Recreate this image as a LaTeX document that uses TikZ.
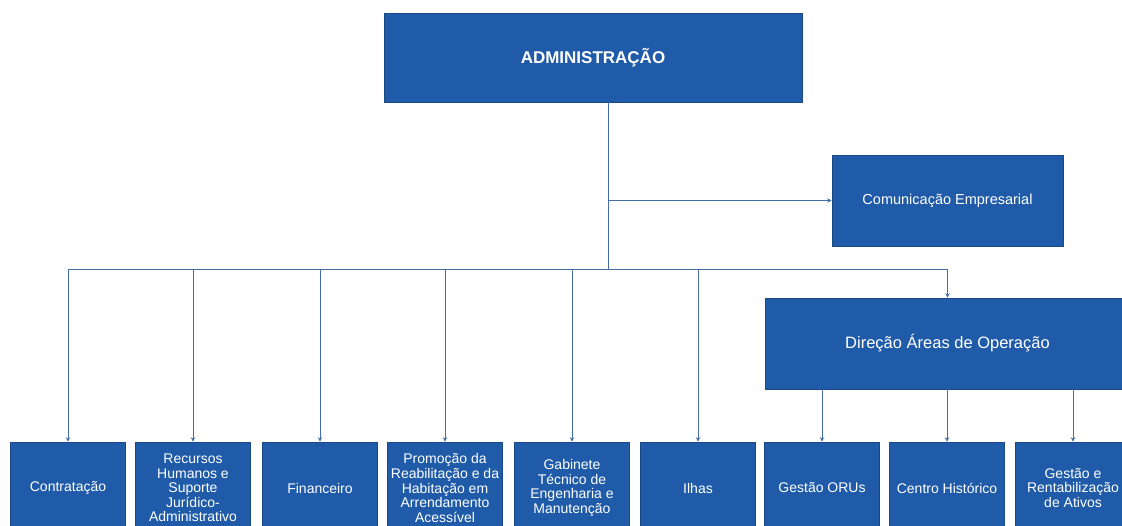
\documentclass[tikz,border=0pt]{standalone}
\usepackage{fontspec}
\setmainfont{Liberation Sans}
\usetikzlibrary{arrows.meta}
\definecolor{boxblue}{RGB}{31,91,168}
\definecolor{lineblue}{RGB}{70,108,165}
\tikzset{
  unit/.style={draw=boxblue!80!black, line width=0.6pt, fill=boxblue, text=white, inner sep=0pt, align=center},
  small/.style={unit, minimum width=115pt, minimum height=92pt, font=\fontsize{14}{14.6}\selectfont},
  conn/.style={draw=lineblue, line width=1pt},
  arr/.style={conn, -{Stealth[length=4.5pt,width=4.5pt]}}
}
\begin{document}
\begin{tikzpicture}[x=1pt,y=-1pt]
\useasboundingbox (0,0) rectangle (1122,526);
\clip (0,0) rectangle (1122,526);
\fill[white] (0,0) rectangle (1122,526);
\node[unit, minimum width=418pt, minimum height=89pt, font=\bfseries\fontsize{17}{19}\selectfont] (admin) at (593,57.5) {ADMINISTRAÇÃO};
\node[unit, minimum width=231pt, minimum height=91pt, font=\fontsize{14.5}{16}\selectfont] (comm) at (947.5,200.5) {Comunicação Empresarial};
\node[unit, minimum width=365pt, minimum height=91pt, font=\fontsize{16.5}{18}\selectfont] (dir) at (947.5,343.5) {Direção Áreas de Operação};
\node[small] (b1) at (68,488) {Contratação};
\node[small] (b2) at (193,488) {Recursos\\Humanos e\\Suporte\\Jurídico-\\Administrativo};
\node[small] (b3) at (320,488) {Financeiro};
\node[small] (b4) at (445,488) {Promoção da\\Reabilitação e da\\Habitação em\\Arrendamento\\Acessível};
\node[small] (b5) at (572,488) {Gabinete\\Técnico de\\Engenharia e\\Manutenção};
\node[small] (b6) at (698,488) {Ilhas};
\node[small] (b7) at (822,488) {Gestão ORUs};
\node[small] (b8) at (947,488) {Centro Histórico};
\node[small] (b9) at (1073,488) {Gestão e\\Rentabilização\\de Ativos};
\coordinate (trunk) at (608,270);
\draw[conn] (admin.south -| trunk) -- (trunk);
\draw[arr] (trunk |- comm.west) -- (comm.west);
\foreach \b in {b1,b2,b3,b4,b5,b6}{
  \draw[arr] (trunk) -| (\b.north);
}
\draw[arr] (trunk) -| (dir.north);
\foreach \b in {b7,b8,b9}{
  \draw[arr] (dir.south -| \b.north) -- (\b.north);
}
\end{tikzpicture}
\end{document}
